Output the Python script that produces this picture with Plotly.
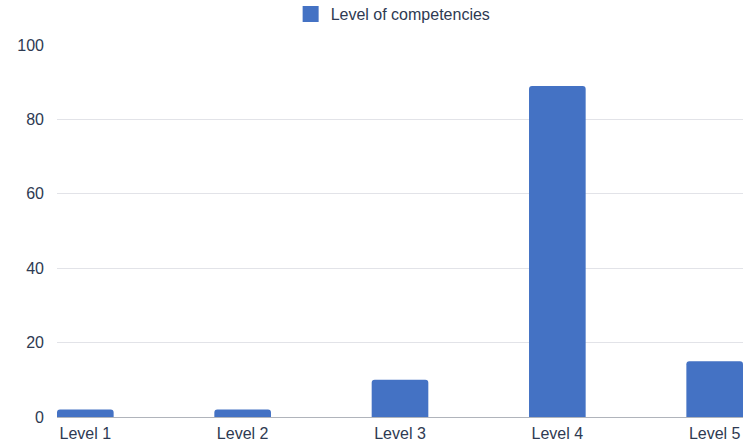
import plotly.graph_objects as go

# Data
levels = ['Level 1', 'Level 2', 'Level 3', 'Level 4', 'Level 5']
competencies = [2, 2, 10, 89, 15]
y_ticks = [0, 20, 40, 60, 80, 100]

BAR_COLOR = '#4472C4'
TEXT_COLOR = '#2e3a52'

fig = go.Figure()
fig.add_trace(go.Bar(
    x=levels, y=competencies, name='Level of competencies',
    marker=dict(color=BAR_COLOR, line=dict(width=0)),
    width=0.36, showlegend=False, legendgroup='comp',
))
# legend-only entry so the swatch can be a bigger square
fig.add_trace(go.Scatter(
    x=[None], y=[None], mode='markers', name='Level of competencies',
    marker=dict(symbol='square', size=18, color=BAR_COLOR),
    showlegend=True, legendgroup='comp',
))

fig.update_layout(
    width=751, height=445,
    paper_bgcolor='white', plot_bgcolor='white',
    font=dict(family='Liberation Sans, Arial, sans-serif', size=16, color=TEXT_COLOR),
    margin=dict(l=57, r=8, t=45, b=28, autoexpand=False),
    barcornerradius=3,
    legend=dict(orientation='h', x=0.49, xanchor='center', y=1.083, yanchor='middle',
                itemsizing='trace', font=dict(size=16, color=TEXT_COLOR)),
)
fig.update_xaxes(
    range=[-0.18, 4.18], showgrid=False, showline=True, automargin=False,
    linecolor='#b0b4bb', linewidth=1, ticks='', ticklabelstandoff=2,
)
fig.update_yaxes(
    range=[0, 100], tickvals=y_ticks, showgrid=True, gridcolor='#e2e3e8',
    gridwidth=1, zeroline=False, showline=False, ticklabelstandoff=12,
    automargin=False,
)

# drop the page's default body margin so the figure sits at the window corner
fig.write_html('out.html', config={'displayModeBar': False},
               post_script="document.body.style.margin='0';")
